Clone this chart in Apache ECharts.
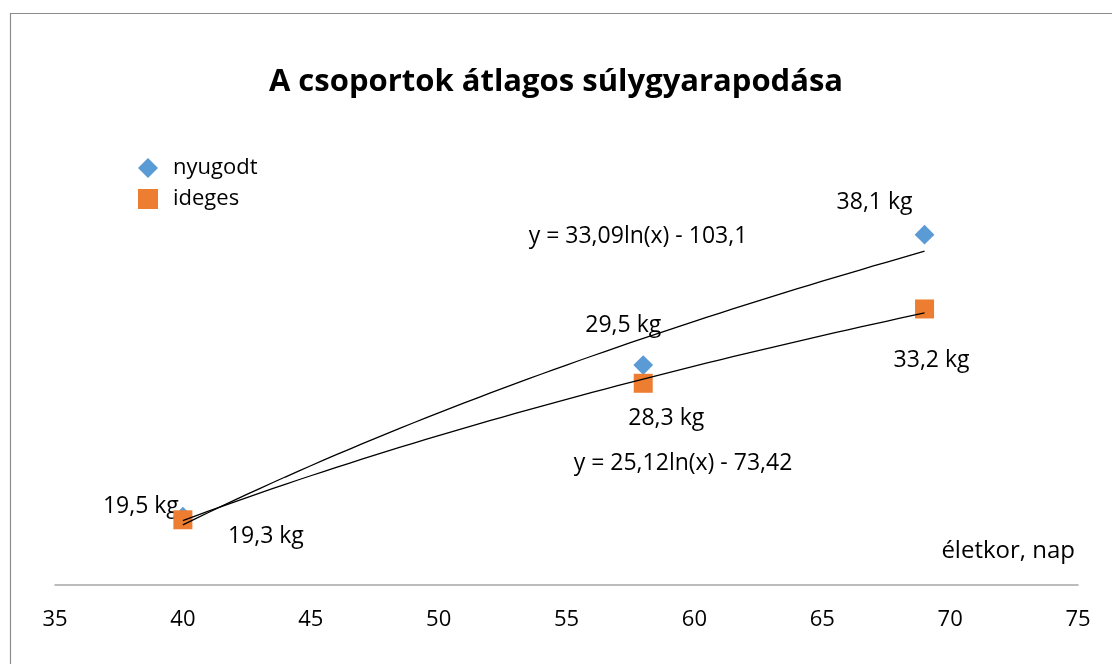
<!DOCTYPE html>
<html>
<head>
<meta charset="utf-8">
<script src="https://cdn.jsdelivr.net/npm/echarts@6/dist/echarts.min.js"></script>
<style>
  html, body { margin: 0; padding: 0; background: #fff; }
  #chart { width: 1112px; height: 664px; }
</style>
</head>
<body>
<div id="chart"></div>
<script>
// adatok
var xTicks = [35, 40, 45, 50, 55, 60, 65, 70, 75];
var ages = [40, 58, 69];
var nyugodt = [19.5, 29.5, 38.1];
var ideges = [19.3, 28.3, 33.2];
// trendvonal: y = a*ln(x) + b (a grafikonon kiírt egyenletek)
var trendNyugodt = [33.09, -103.1];
var trendIdeges = [25.12, -73.42];
var eqNyugodt = 'y = 33,09ln(x) - 103,1';
var eqIdeges = 'y = 25,12ln(x) - 73,42';

var FONT = '"Open Sans"';

function kg(v) {
    return String(v).replace('.', ',') + ' kg';
}

function trend(coef) {
    var pts = [];
    for (var x = ages[0]; x <= ages[ages.length - 1]; x += 0.5) {
        pts.push([x, coef[0] * Math.log(x) + coef[1]]);
    }
    return pts;
}

// címkék eltolása a pontokhoz képest
var offN = [[-42, -10], [-20, -40], [-50, -32]];
var offI = [[83, 17], [23, 35], [7, 51]];

function points(vals, offs) {
    return vals.map(function (v, i) {
        return {
            value: [ages[i], v],
            label: { show: true, position: 'inside', offset: offs[i], formatter: kg(v) }
        };
    });
}

window.onload = function () {
    var myChart = echarts.init(document.getElementById('chart'));
    var option = {
        backgroundColor: '#fff',
        animation: false,
        title: {
            text: 'A csoportok átlagos súlygyarapodása',
            left: 'center',
            top: 62,
            textStyle: { fontFamily: FONT, fontSize: 31, fontWeight: 'bold', color: '#000' }
        },
        legend: {
            left: 133,
            top: 152,
            orient: 'vertical',
            itemGap: 9,
            itemWidth: 20,
            itemHeight: 20,
            textStyle: { fontFamily: FONT, fontSize: 22, color: '#000', padding: [0, 0, 0, 10] },
            data: [
                { name: 'nyugodt', icon: 'path://M10,0 L20,10 L10,20 L0,10 Z', itemStyle: { color: '#5B9BD5', opacity: 1 } },
                { name: 'ideges', icon: 'rect', itemStyle: { color: '#ED7D31', opacity: 1 } }
            ]
        },
        grid: { left: 55, right: 34, top: 130, bottom: 79, containLabel: false },
        xAxis: {
            type: 'value',
            min: xTicks[0],
            max: xTicks[xTicks.length - 1],
            interval: 5,
            splitLine: { show: false },
            axisTick: { show: false },
            axisLine: { show: true, lineStyle: { color: '#A6A6A6', width: 1.5 } },
            axisLabel: { fontFamily: FONT, fontSize: 22, color: '#000', margin: 24 }
        },
        yAxis: {
            type: 'value',
            min: 15,
            max: 45,
            show: false
        },
        graphic: [
            {
                type: 'rect', silent: true, z: 0,
                shape: { x: 10.5, y: 13.5, width: 1300, height: 900 },
                style: { fill: 'none', stroke: '#8C8C8C', lineWidth: 1.2 }
            },
            {
                type: 'text', x: 1075, y: 551,
                style: { text: 'életkor, nap', font: '24px ' + FONT, fill: '#000', align: 'right', verticalAlign: 'middle' }
            },
            {
                type: 'text', x: 638, y: 236,
                style: { text: eqNyugodt, font: '23px ' + FONT, fill: '#000', align: 'center', verticalAlign: 'middle' }
            },
            {
                type: 'text', x: 683, y: 463,
                style: { text: eqIdeges, font: '23px ' + FONT, fill: '#000', align: 'center', verticalAlign: 'middle' }
            }
        ],
        series: [
            {
                name: 'nyugodt',
                type: 'scatter',
                symbol: 'rect',
                symbolSize: 14,
                symbolRotate: 45,
                itemStyle: { color: '#5B9BD5', opacity: 1 },
                label: { fontFamily: FONT, fontSize: 23, color: '#000' },
                z: 2,
                data: points(nyugodt, offN)
            },
            {
                name: 'ideges',
                type: 'scatter',
                symbol: 'rect',
                symbolSize: 19,
                itemStyle: { color: '#ED7D31', opacity: 1 },
                label: { fontFamily: FONT, fontSize: 23, color: '#000' },
                z: 3,
                data: points(ideges, offI)
            },
            {
                name: 'trend nyugodt',
                type: 'line',
                showSymbol: false,
                smooth: false,
                lineStyle: { color: '#000', width: 1.3 },
                z: 4,
                data: trend(trendNyugodt)
            },
            {
                name: 'trend ideges',
                type: 'line',
                showSymbol: false,
                smooth: false,
                lineStyle: { color: '#000', width: 1.3 },
                z: 4,
                data: trend(trendIdeges)
            }
        ]
    };
    myChart.setOption(option);
};
</script>
</body>
</html>
